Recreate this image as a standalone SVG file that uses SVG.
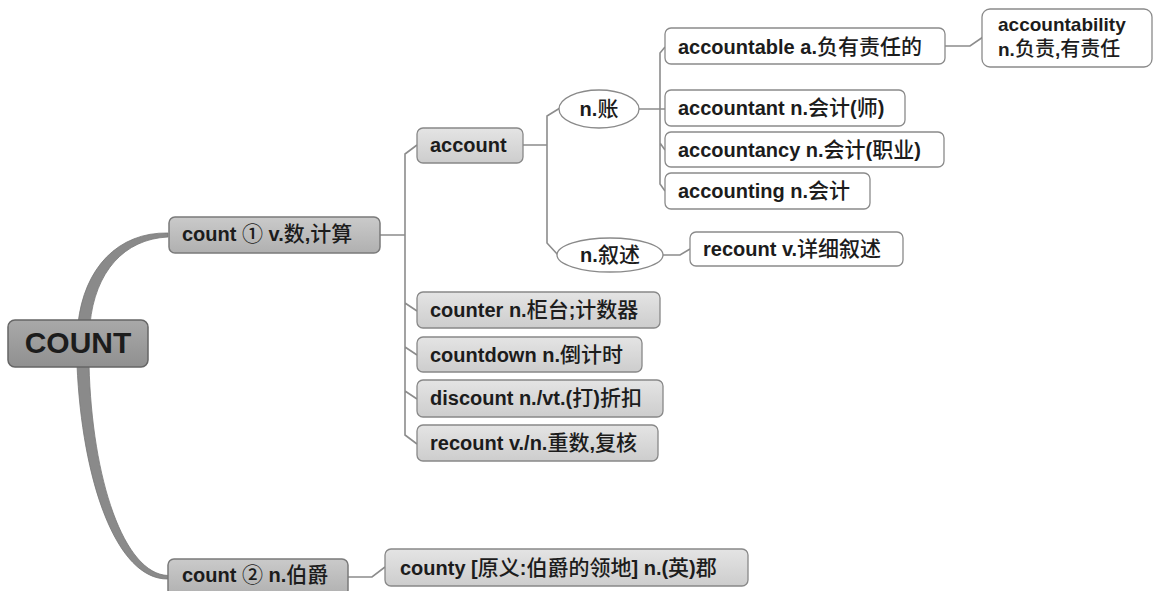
<svg xmlns="http://www.w3.org/2000/svg" width="1158" height="591" viewBox="0 0 1158 591">
<defs>
<linearGradient id="gRoot" x1="0" y1="0" x2="0" y2="1"><stop offset="0" stop-color="#a9a9a9"/><stop offset="1" stop-color="#909090"/></linearGradient>
<linearGradient id="gL1" x1="0" y1="0" x2="0" y2="1"><stop offset="0" stop-color="#cacaca"/><stop offset="1" stop-color="#b0b0b0"/></linearGradient>
<linearGradient id="gL2" x1="0" y1="0" x2="0" y2="1"><stop offset="0" stop-color="#e4e4e4"/><stop offset="1" stop-color="#cdcdcd"/></linearGradient>
</defs>
<style>
.t{font-family:"Liberation Sans","Noto Sans CJK SC",sans-serif;font-size:20px;font-weight:bold;fill:#1c1c1c}
.c{font-family:"Noto Sans CJK SC",sans-serif;font-weight:500;font-size:21px}
.s{font-size:19px}
.s .c{font-size:20px}
.root{fill:url(#gRoot);stroke:#666;stroke-width:1.5}
.l1{fill:url(#gL1);stroke:#7a7a7a;stroke-width:1.5}
.l2{fill:url(#gL2);stroke:#888;stroke-width:1.3}
.w{fill:#fff;stroke:#8a8a8a;stroke-width:1.3}
.ln{fill:none;stroke:#8c8c8c;stroke-width:1.6}
.thick{fill:#8a8a8a;stroke:#777;stroke-width:0.8}
</style>
<rect width="1158" height="591" fill="#fff"/>
<g id="connectors">
<path class="thick" d="M78,324 C84,268 118,232 168,233 L168,237 C124,239 95,272 90,324 Z"/>
<path class="thick" d="M77,365 C82,480 116,580 168,579 L168,575.5 C124,574 92,480 89,365 Z"/>
<path class="ln" d="M380,235 H405 M417,145 L405,154 V435 L417,444 M405,303 L417,311 M405,347 L417,355 M405,391 L417,399"/>
<path class="ln" d="M523,145 H547 M560,108 L547,116 V243 L558,255"/>
<path class="ln" d="M639,109 H665 M665,47 L660,53 V184 L665,191 M660,143 L665,150"/>
<path class="ln" d="M945,46 H970 L983,37"/>
<path class="ln" d="M663,255 H680 L690,249"/>
<path class="ln" d="M348,577 H372 L385,567"/>
</g>
<g id="n-root"><rect class="root" x="8" y="320" width="140" height="47" rx="7"/><text class="t" x="78" y="353" text-anchor="middle" style="font-size:30px">COUNT</text></g>
<g id="n-count1"><rect class="l1" x="169" y="217" width="211" height="36" rx="6"/><text class="t" x="182" y="241">count <tspan class="c">①</tspan> v.<tspan class="c">数</tspan>,<tspan class="c">计算</tspan></text></g>
<g id="n-count2"><rect class="l1" x="168" y="559" width="180" height="37" rx="6"/><text class="t" x="182" y="582">count <tspan class="c">②</tspan> n.<tspan class="c">伯爵</tspan></text></g>
<g id="n-account"><rect class="l2" x="417" y="128" width="106" height="35" rx="6"/><text class="t" x="430" y="152">account</text></g>
<g id="n-zhang"><ellipse class="w" cx="599" cy="109" rx="40" ry="19"/><text class="t" x="599" y="116" text-anchor="middle">n.<tspan class="c">账</tspan></text></g>
<g id="n-xushu"><ellipse class="w" cx="610" cy="255" rx="53" ry="17"/><text class="t" x="610" y="262" text-anchor="middle">n.<tspan class="c">叙述</tspan></text></g>
<g id="n-accountable"><rect class="w" x="665" y="28" width="280" height="36" rx="6"/><text class="t" x="678" y="54">accountable a.<tspan class="c">负有责任的</tspan></text></g>
<g id="n-accountability"><rect class="w" x="982" y="9" width="170" height="58" rx="8"/><text class="t s" x="998" y="31">accountability</text><text class="t s" x="998" y="56">n.<tspan class="c">负责</tspan>,<tspan class="c">有责任</tspan></text></g>
<g id="n-accountant"><rect class="w" x="665" y="90" width="240" height="36" rx="6"/><text class="t" x="678" y="115">accountant n.<tspan class="c">会计</tspan>(<tspan class="c">师</tspan>)</text></g>
<g id="n-accountancy"><rect class="w" x="665" y="132" width="279" height="35" rx="6"/><text class="t" x="678" y="157">accountancy n.<tspan class="c">会计</tspan>(<tspan class="c">职业</tspan>)</text></g>
<g id="n-accounting"><rect class="w" x="665" y="173" width="205" height="36" rx="6"/><text class="t" x="678" y="198">accounting n.<tspan class="c">会计</tspan></text></g>
<g id="n-recount1"><rect class="w" x="690" y="232" width="213" height="34" rx="6"/><text class="t" x="703" y="256">recount v.<tspan class="c">详细叙述</tspan></text></g>
<g id="n-counter"><rect class="l2" x="417" y="292" width="243" height="36" rx="6"/><text class="t" x="430" y="317">counter n.<tspan class="c">柜台</tspan>;<tspan class="c">计数器</tspan></text></g>
<g id="n-countdown"><rect class="l2" x="417" y="337" width="225" height="35" rx="6"/><text class="t" x="430" y="362">countdown n.<tspan class="c">倒计时</tspan></text></g>
<g id="n-discount"><rect class="l2" x="417" y="380" width="246" height="37" rx="6"/><text class="t" x="430" y="405">discount n./vt.(<tspan class="c">打</tspan>)<tspan class="c">折扣</tspan></text></g>
<g id="n-recount2"><rect class="l2" x="417" y="425" width="241" height="36" rx="6"/><text class="t" x="430" y="450">recount v./n.<tspan class="c">重数</tspan>,<tspan class="c">复核</tspan></text></g>
<g id="n-county"><rect class="l2" x="385" y="549" width="363" height="37" rx="6"/><text class="t" x="400" y="575">county [<tspan class="c">原义</tspan>:<tspan class="c">伯爵的领地</tspan>] n.(<tspan class="c">英</tspan>)<tspan class="c">郡</tspan></text></g>
</svg>
